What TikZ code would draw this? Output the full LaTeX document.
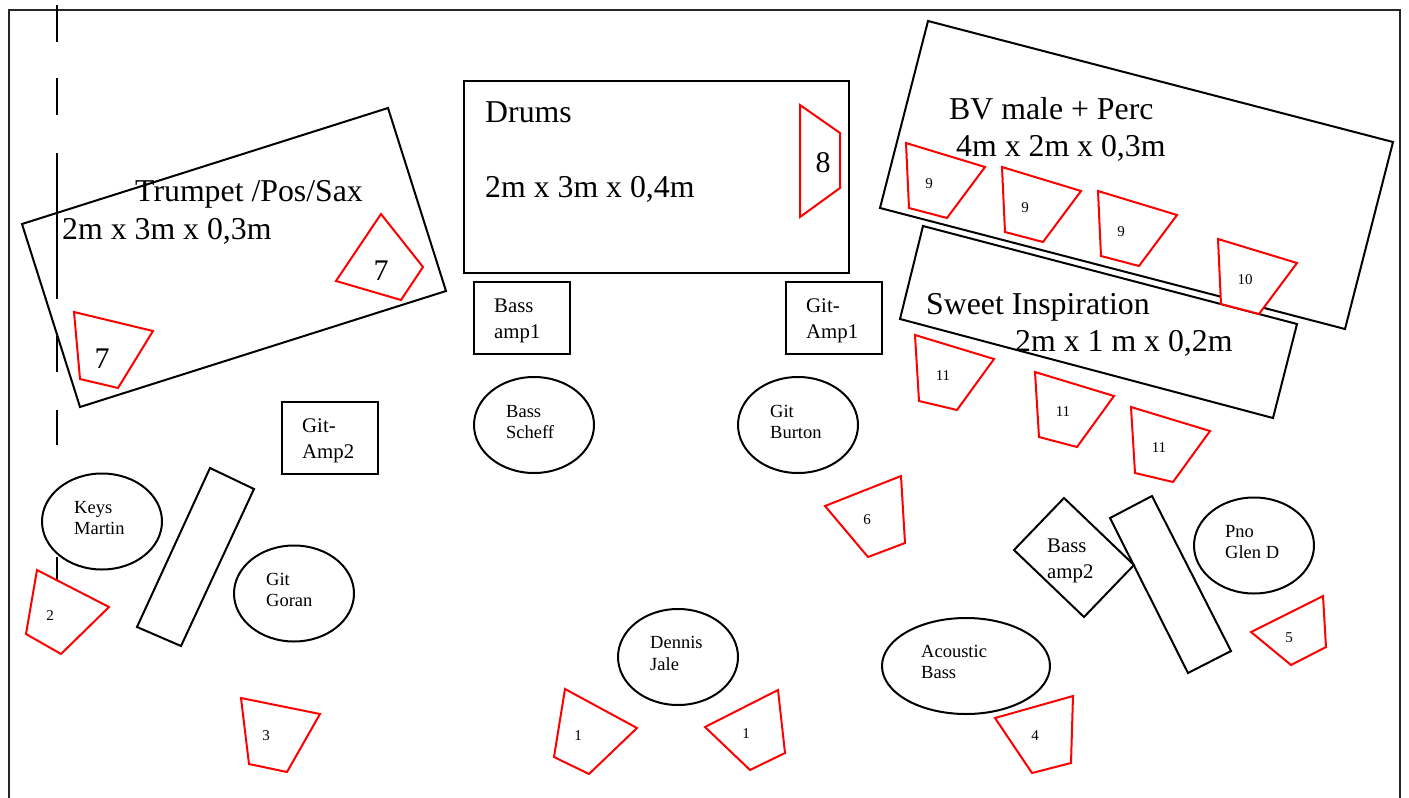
\documentclass[tikz,border=0pt]{standalone}
\usepackage{fontspec}
\setmainfont{Liberation Serif}
\definecolor{monred}{RGB}{255,0,0}
\tikzset{
  blk/.style={draw=black,line width=2pt,line join=miter,fill=none},
  oval/.style={draw=black,line width=2pt,fill=white},
  mon/.style={draw=monred,line width=2pt,fill=white,line join=miter},
  frameline/.style={draw=black!85,line width=2.4pt},
  dashline/.style={draw=black,line width=2pt},
  big/.style={anchor=base west,inner sep=0pt,font=\fontsize{31.8}{32}\selectfont},
  small/.style={anchor=base west,inner sep=0pt,align=left,font=\fontsize{20.8}{22}\selectfont},
  person/.style={anchor=base west,inner sep=0pt,align=left,font=\fontsize{18.5}{20}\selectfont},
  tiny/.style={anchor=base,inner sep=0pt,font=\fontsize{15}{15}\selectfont},
  digit/.style={anchor=base,inner sep=0pt,font=\fontsize{30}{30}\selectfont},
}
\begin{document}
\begin{tikzpicture}[x=1pt,y=-1pt]
\useasboundingbox (0,0) rectangle (1409,798);
\fill[white] (0,0) rectangle (1409,798);
\begin{scope}
\clip (0,0) rectangle (1409,798);
\draw[frameline] (9,820) -- (9,10) -- (1400,10) -- (1400,820);
\end{scope}
% dashed line
\foreach \a/\b in {5/42,78/115,153/299,336/372,410/445,557/590}
  \draw[dashline] (57,\a) -- (57,\b);
% stages
\draw[blk] (22,224) -- (388,108) -- (446,291) -- (80,407) -- cycle;
\draw[blk] (464,81) rectangle (849,273);
\draw[blk] (928,21) -- (1393,142) -- (1345,329) -- (880,208) -- cycle;
\draw[blk] (923,226) -- (1297,324) -- (1273,418) -- (900,319) -- cycle;
% amps
\draw[blk] (474,282) rectangle (570,354);
\draw[blk] (786,282) rectangle (882,354);
\draw[blk] (282,402) rectangle (378,474);
\draw[blk] (210,468) -- (254,489) -- (181,646) -- (137,627) -- cycle;
\draw[blk] (1110,518) -- (1152,496) -- (1231,651) -- (1188,673) -- cycle;
\draw[blk] (1064,498) -- (1134,565) -- (1084,617) -- (1014,550) -- cycle;
% musicians
\draw[oval] (534,425) ellipse [x radius=60,y radius=48];
\draw[oval] (798,425) ellipse [x radius=60,y radius=48];
\draw[oval] (102,521.5) ellipse [x radius=60,y radius=48];
\draw[oval] (294,593.5) ellipse [x radius=60,y radius=48];
\draw[oval] (678,657) ellipse [x radius=60,y radius=48];
\draw[oval] (966,666) ellipse [x radius=84,y radius=48];
\draw[oval] (1254,545.5) ellipse [x radius=60,y radius=48];
% monitors
\draw[mon] (381,214) -- (423,267) -- (401,300) -- (336,281) -- cycle;
\draw[mon] (74,312) -- (153,331) -- (118,388) -- (80,379) -- cycle;
\draw[mon] (800,105) -- (840,133) -- (840,188) -- (800,217) -- cycle;
\draw[mon] (906,143) -- (985,167) -- (947,218) -- (909,208) -- cycle;
\draw[mon] (1002,167) -- (1081,191) -- (1043,242) -- (1005,232) -- cycle;
\draw[mon] (1098,191) -- (1177,215) -- (1139,266) -- (1101,256) -- cycle;
\draw[mon] (1218,239) -- (1297,263) -- (1259,314) -- (1221,304) -- cycle;
\draw[mon] (915,335) -- (994,359) -- (957,410) -- (919,401) -- cycle;
\draw[mon] (1035,372) -- (1114,396) -- (1077,447) -- (1039,437) -- cycle;
\draw[mon] (1131,407) -- (1210,431) -- (1173,482) -- (1135,473) -- cycle;
\draw[mon] (825,506) -- (901,476) -- (905,543) -- (868,557) -- cycle;
\draw[mon] (1251,632) -- (1323,596) -- (1326,647) -- (1291,665) -- cycle;
\draw[mon] (995,718) -- (1073,696) -- (1071,763) -- (1032,773) -- cycle;
\draw[mon] (241,698) -- (320,714) -- (287,772) -- (249,764) -- cycle;
\draw[mon] (37,570) -- (109,607) -- (61,654) -- (26,634) -- cycle;
\draw[mon] (565,689) -- (637,728) -- (589,774) -- (554,757) -- cycle;
\draw[mon] (705,727) -- (778,690) -- (785,753) -- (750,770) -- cycle;
% big labels
\node[big] (t1) at (135,201) {Trumpet /Pos/Sax};
\node[big] (t2) at (62,239) {2m x 3m x 0,3m};
\node[big] (d1) at (485,122) {Drums};
\node[big] (d2) at (485,197) {2m x 3m x 0,4m};
\node[big] (b1) at (949,119) {BV male + Perc};
\node[big] (b2) at (956,156) {4m x 2m x 0,3m};
\node[big] (s1) at (926,314) {Sweet Inspiration};
\node[big] (s2) at (1015,351) {2m x 1 m x 0,2m};
% small labels
\node[small] (a1) at (494,312) {Bass};
\node[small] (a1b) at (494,338) {amp1};
\node[small] (a2) at (806,312) {Git-};
\node[small] (a2b) at (806,338) {Amp1};
\node[small] (a3) at (302,432) {Git-};
\node[small] (a3b) at (302,458) {Amp2};
\node[small] (a4) at (1047,552) {Bass};
\node[small] (a4b) at (1047,578) {amp2};
\node[person] (m1) at (506,417) {Bass};
\node[person] (m1b) at (506,438) {Scheff};
\node[person] (m2) at (770,417) {Git};
\node[person] (m2b) at (770,438) {Burton};
\node[person] (m3) at (74,513) {Keys};
\node[person] (m3b) at (74,534) {Martin};
\node[person] (m4) at (266,585) {Git};
\node[person] (m4b) at (266,606) {Goran};
\node[person] (m5) at (650,648) {Dennis};
\node[person] (m5b) at (650,670) {Jale};
\node[person] (m6) at (921,657) {Acoustic};
\node[person] (m6b) at (921,678) {Bass};
\node[person] (m7) at (1225,537) {Pno};
\node[person] (m7b) at (1225,558) {Glen D};
% monitor numbers
\node[digit] (n7a) at (381,280) {7};
\node[digit] (n7b) at (102,368) {7};
\node[digit] (n8) at (823,172) {8};
\node[tiny] (n9a) at (929,188) {9};
\node[tiny] (n9b) at (1025,212) {9};
\node[tiny] (n9c) at (1121,236) {9};
\node[tiny] (n10) at (1245,284) {10};
\node[tiny] (n11a) at (943,380) {11};
\node[tiny] (n11b) at (1063,416) {11};
\node[tiny] (n11c) at (1159,452) {11};
\node[tiny] (n6) at (867,524) {6};
\node[tiny] (n5) at (1289,642) {5};
\node[tiny] (n4) at (1035,740) {4};
\node[tiny] (n3) at (266,740) {3};
\node[tiny] (n2) at (50,620) {2};
\node[tiny] (n1a) at (578,740) {1};
\node[tiny] (n1b) at (746,738) {1};
\end{tikzpicture}
\end{document}
